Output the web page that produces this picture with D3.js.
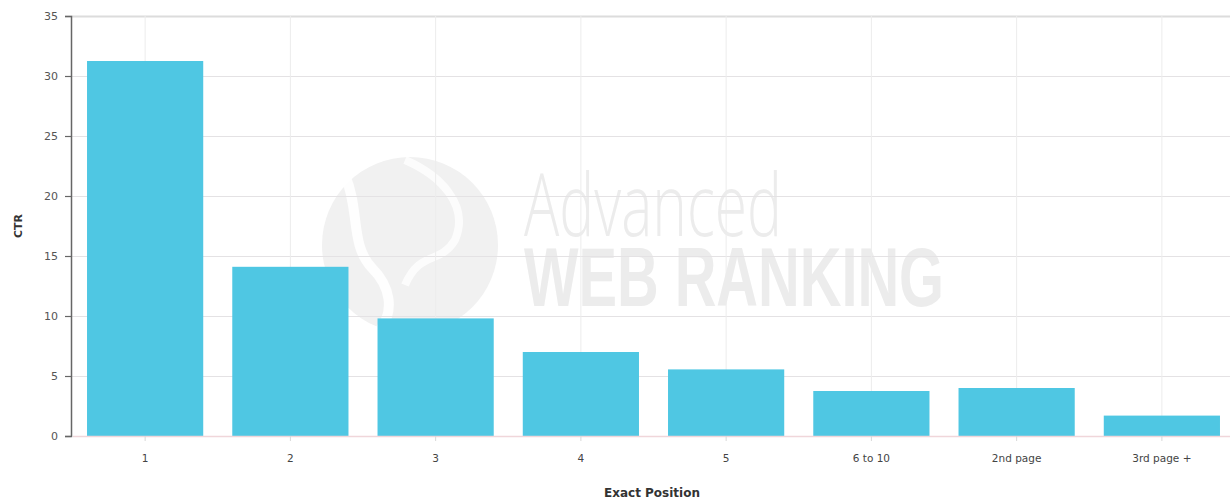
<!DOCTYPE html>
<html>
<head>
<meta charset="utf-8">
<script src="https://cdn.jsdelivr.net/npm/d3@7"></script>
<style>
html,body{margin:0;padding:0;background:#fff;}
svg{display:block;}
</style>
</head>
<body>
<svg id="chart" width="1230" height="502"></svg>
<script>
const categories = ["1","2","3","4","5","6 to 10","2nd page","3rd page +"];
const ctrValues = [31.25, 14.1, 9.8, 7.0, 5.55, 3.75, 4.0, 1.7];
const yTicks = [0,5,10,15,20,25,30,35];
const xTitle = "Exact Position";
const yTitle = "CTR";

const W = 1230, H = 502;
const m = {top:16, left:71, bottom:66, right:-3};
const svg = d3.select("#chart");

const x = d3.scaleBand().domain(categories).range([m.left, W - m.right]).paddingInner(0.2).paddingOuter(0.1);
const y = d3.scaleLinear().domain([0,35]).range([H - m.bottom, m.top]);

// watermark
const wm = svg.append("g").attr("class","watermark");
wm.append("circle").attr("cx",410).attr("cy",245).attr("r",88).attr("fill","#f1f1f1");
wm.append("path").attr("d","M345,175 C360,210 350,245 372,268 C390,286 395,310 380,330")
  .attr("fill","none").attr("stroke","#fff").attr("stroke-width",10).attr("opacity",0.9);
wm.append("path").attr("d","M405,160 C440,175 470,205 455,240 C440,265 420,250 405,285")
  .attr("fill","none").attr("stroke","#fff").attr("stroke-width",8).attr("opacity",0.8);
const wmText = wm.append("text").attr("fill","#ececec");
wmText.append("tspan").attr("x",524).attr("y",236).text("Advanced")
  .attr("font-family","'Open Sans', 'DejaVu Sans', sans-serif").attr("font-weight",300)
  .attr("font-size",86)
  .attr("textLength",258).attr("lengthAdjust","spacingAndGlyphs");
wmText.append("tspan").attr("x",524).attr("y",306).text("WEB RANKING")
  .attr("font-family","'Liberation Sans Narrow', 'Liberation Sans', sans-serif").attr("font-weight",700)
  .attr("font-size",84)
  .attr("textLength",420).attr("lengthAdjust","spacingAndGlyphs");

// grid
const grid = svg.append("g");
grid.selectAll("line.h").data(yTicks.filter(d=>d>0)).enter().append("line")
  .attr("x1",m.left).attr("x2",W).attr("y1",d=>y(d)+0.5).attr("y2",d=>y(d)+0.5)
  .attr("stroke",d=>d===35?"#dcdcdc":"#e4e2e4").attr("stroke-width",d=>d===35?2:1);
grid.selectAll("line.v").data(categories).enter().append("line")
  .attr("x1",d=>x(d)+x.bandwidth()/2+1.5).attr("x2",d=>x(d)+x.bandwidth()/2+1.5)
  .attr("y1",m.top).attr("y2",y(0))
  .attr("stroke","#ececec").attr("stroke-width",1);

// bars
svg.append("g").selectAll("rect").data(categories).enter().append("rect")
  .attr("x",d=>x(d)+1.5).attr("width",x.bandwidth())
  .attr("y",(d,i)=>y(ctrValues[i])).attr("height",(d,i)=>y(0)-y(ctrValues[i]))
  .attr("fill","#4fc7e3");

// x axis
const xAxis = svg.append("g").attr("transform",`translate(1.5,${y(0)})`)
  .call(d3.axisBottom(x).tickSize(5).tickSizeOuter(0).tickPadding(14));
xAxis.select(".domain").attr("stroke","#f0d6da").attr("stroke-width",1.5);
xAxis.selectAll(".tick line").attr("stroke","#d8d8d8");
xAxis.selectAll(".tick text").attr("font-family","'DejaVu Sans', Verdana, sans-serif")
  .attr("font-size",10.5).attr("fill","#444");

// y axis
const yAxis = svg.append("g").attr("transform",`translate(${m.left},0)`)
  .call(d3.axisLeft(y).tickValues(yTicks).tickSize(6).tickPadding(7));
yAxis.select(".domain").attr("stroke","#666").attr("stroke-width",1.5);
yAxis.selectAll(".tick line").attr("stroke","#666").attr("stroke-width",1.2);
yAxis.selectAll(".tick text").attr("font-family","'DejaVu Sans', Verdana, sans-serif")
  .attr("font-size",11).attr("fill","#555");

// titles
svg.append("text").attr("x",652).attr("y",497).attr("text-anchor","middle").text(xTitle)
  .attr("font-family","'DejaVu Sans', Verdana, sans-serif").attr("font-weight","bold")
  .attr("font-size",12).attr("fill","#333");
svg.append("text").attr("transform","translate(22,226) rotate(-90)").attr("text-anchor","middle").text(yTitle)
  .attr("font-family","'DejaVu Sans', Verdana, sans-serif").attr("font-weight","bold")
  .attr("font-size",11).attr("fill","#333");
</script>
</body>
</html>
